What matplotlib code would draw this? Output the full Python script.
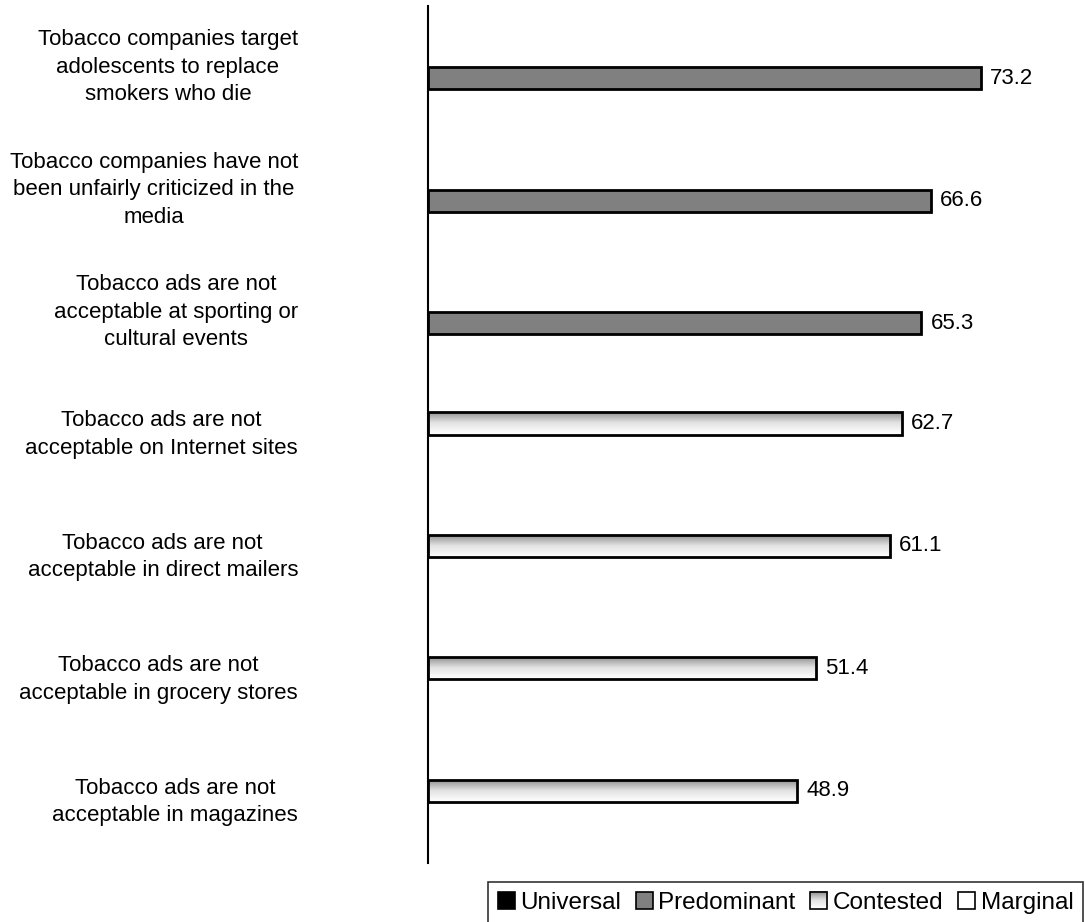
import matplotlib
matplotlib.use("Agg")
import matplotlib.pyplot as plt
import numpy as np
from matplotlib.patches import Rectangle
from matplotlib.legend_handler import HandlerBase
from matplotlib.colors import LinearSegmentedColormap

plt.rcParams["font.family"] = ["Liberation Sans", "DejaVu Sans"]

labels = [
    "Tobacco companies target\nadolescents to replace\nsmokers who die",
    "Tobacco companies have not\nbeen unfairly criticized in the\nmedia",
    "Tobacco ads are not\nacceptable at sporting or\ncultural events",
    "Tobacco ads are not\nacceptable on Internet sites",
    "Tobacco ads are not\nacceptable in direct mailers",
    "Tobacco ads are not\nacceptable in grocery stores",
    "Tobacco ads are not\nacceptable in magazines",
]
values = [73.2, 66.6, 65.3, 62.7, 61.1, 51.4, 48.9]
groups = ["Predominant", "Predominant", "Predominant",
          "Contested", "Contested", "Contested", "Contested"]
legend_names = ["Universal", "Predominant", "Contested", "Marginal"]

grad_cmap = LinearSegmentedColormap.from_list("grad", ["#8a8a8a", "#e2e2e2", "#ffffff"])
grad = np.linspace(0, 1, 64).reshape(-1, 1)

W, H = 1085, 922
fig = plt.figure(figsize=(W / 100, H / 100), dpi=100)
ax = fig.add_axes([428 / W, 1 - 863 / H, (1070 - 428) / W, (863 - 6) / H])

px_per_unit = (981 - 428) / 73.2
xmax = (1070 - 428) / px_per_unit
bar_h = 0.18
# series slots inside each category group (Excel-style clustered bars)
slot = {"Universal": 1.5 * bar_h, "Predominant": 0.5 * bar_h,
        "Contested": -0.5 * bar_h, "Marginal": -1.5 * bar_h}

for i, (v, g) in enumerate(zip(values, groups)):
    y = i + slot[g]
    if g == "Predominant":
        ax.barh(y, v, height=bar_h, color="#808080", edgecolor="black", linewidth=2, zorder=3)
    else:
        bars = ax.barh(y, v, height=bar_h, color="none", edgecolor="black", linewidth=2, zorder=4)
        im = ax.imshow(grad, cmap=grad_cmap, aspect="auto", zorder=3,
                       extent=[0, v, y + bar_h / 2, y - bar_h / 2], origin="upper")
        im.set_clip_path(bars[0])
    ax.text(v + 1.2, y, f"{v:.1f}", va="center", ha="left", fontsize=16)

ax.set_xlim(0, xmax)
ax.set_ylim(6.5, -0.5)
for s in ["top", "right", "bottom"]:
    ax.spines[s].set_visible(False)
ax.spines["left"].set_linewidth(1.5)
ax.set_xticks([])
ax.set_yticks([])

lab_x = (298 - 428) / (1070 - 428)
for i, lab in enumerate(labels):
    ax.text(lab_x, i, lab, transform=ax.get_yaxis_transform(), ha="right", va="center",
            multialignment="center", fontsize=16, linespacing=1.40)


class GradHandler(HandlerBase):
    def create_artists(self, legend, orig_handle, xdescent, ydescent, width, height, fontsize, trans):
        from matplotlib.image import BboxImage
        from matplotlib.transforms import Bbox, TransformedBbox
        r = Rectangle((-xdescent, -ydescent), width, height, facecolor="none",
                      edgecolor="black", linewidth=1.2, transform=trans)
        bb = TransformedBbox(Bbox.from_bounds(-xdescent, -ydescent, width, height), trans)
        img = BboxImage(bb, cmap=grad_cmap, interpolation="bilinear", norm=plt.Normalize(0, 1))
        img.set_data(grad)
        return [img, r]


handles = [
    Rectangle((0, 0), 1, 1, facecolor="black", edgecolor="black", linewidth=1.2),
    Rectangle((0, 0), 1, 1, facecolor="#808080", edgecolor="black", linewidth=1.2),
    Rectangle((0, 0), 1, 1, facecolor="#cccccc", edgecolor="black", linewidth=1.2),
    Rectangle((0, 0), 1, 1, facecolor="white", edgecolor="black", linewidth=1.2),
]
leg = fig.legend(handles, legend_names, loc="upper right", bbox_to_anchor=(1083 / W, 1 - 882 / H),
                 ncol=4, fontsize=17.5, frameon=True, fancybox=False, edgecolor="black",
                 handlelength=0.7, handleheight=0.7, handletextpad=0.23, columnspacing=0.6,
                 borderpad=0.4, borderaxespad=0.0, handler_map={handles[2]: GradHandler()})
leg.get_frame().set_linewidth(1.2)

fig.savefig("out.png", dpi=100)
